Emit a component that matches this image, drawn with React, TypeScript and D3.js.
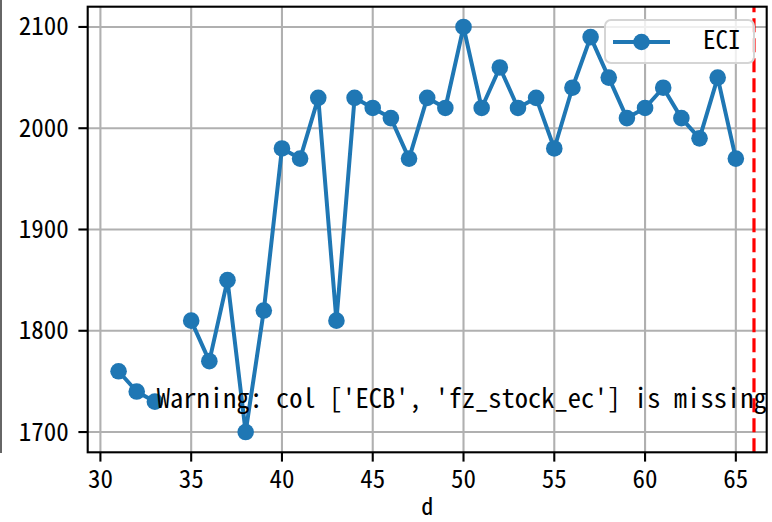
import React from "react";
import * as d3 from "d3";

const xs: number[] = [31, 32, 33, 34, 35, 36, 37, 38, 39, 40, 41, 42, 43, 44, 45, 46, 47, 48, 49, 50, 51, 52, 53, 54, 55, 56, 57, 58, 59, 60, 61, 62, 63, 64, 65];
const eci: (number | null)[] = [1760, 1740, 1730, null, 1810, 1770, 1850, 1700, 1820, 1980, 1970, 2030, 1810, 2030, 2020, 2010, 1970, 2030, 2020, 2100, 2020, 2060, 2020, 2030, 1980, 2040, 2090, 2050, 2010, 2020, 2040, 2010, 1990, 2050, 1970];
const xTicks: number[] = [30, 35, 40, 45, 50, 55, 60, 65];
const yTicks: number[] = [1700, 1800, 1900, 2000, 2100];
const cutoffX = 66;
const warningText = "Warning: col ['ECB', 'fz_stock_ec'] is missing";
const warnPos = { x: 33.1, y: 1724 };
const seriesName = "ECI";
const xLabel = "d";

const W = 772, H = 522;
const L = 87.7, R = 766.7, T = 6.7, B = 452.3;
const FONT = "'Noto Sans Mono CJK SC', 'Noto Sans CJK SC', 'DejaVu Sans Mono', monospace";
const BLUE = "#1f77b4";

export default function App() {
  const x = d3.scaleLinear().domain([29.3, 66.7]).range([L, R]);
  const y = d3.scaleLinear().domain([1680, 2120]).range([B, T]);
  const pts = xs.map((v, i) => ({ x: v, y: eci[i] }));
  const line = d3
    .line<{ x: number; y: number | null }>()
    .defined((d) => d.y !== null)
    .x((d) => x(d.x))
    .y((d) => y(d.y as number));

  return (
    <svg width={W} height={H} style={{ position: "fixed", left: 0, top: 0, background: "#fff" }} fontFamily={FONT}>
      <rect x={0} y={0} width={W} height={H} fill="#fff" />
      <line x1={1} x2={1} y1={0} y2={453} stroke="#333" strokeWidth={1.5} />
      <defs>
        <clipPath id="plotclip">
          <rect x={L} y={T} width={R - L} height={B - T} />
        </clipPath>
      </defs>
      {xTicks.map((t) => (
        <line key={"gx" + t} x1={x(t)} x2={x(t)} y1={T} y2={B} stroke="#b0b0b0" strokeWidth={2.1} />
      ))}
      {yTicks.map((t) => (
        <line key={"gy" + t} x1={L} x2={R} y1={y(t)} y2={y(t)} stroke="#b0b0b0" strokeWidth={2.1} />
      ))}
      <g clipPath="url(#plotclip)">
        <path d={line(pts) || ""} fill="none" stroke={BLUE} strokeWidth={4} strokeLinejoin="round" />
        {pts
          .filter((p) => p.y !== null)
          .map((p) => (
            <circle key={"p" + p.x} cx={x(p.x)} cy={y(p.y as number)} r={8.3} fill={BLUE} />
          ))}
        <line
          x1={x(cutoffX)}
          x2={x(cutoffX)}
          y1={B}
          y2={T}
          stroke="#ff0000"
          strokeWidth={3.2}
          strokeDasharray="14,6"
        />
      </g>
      <text x={x(warnPos.x)} y={y(warnPos.y)} fontSize={26.5} fill="#000" textLength={610} lengthAdjust="spacingAndGlyphs">
        {warningText}
      </text>
      <rect x={L} y={T} width={R - L} height={B - T} fill="none" stroke="#000" strokeWidth={2.1} />
      {xTicks.map((t) => (
        <g key={"tx" + t}>
          <line x1={x(t)} x2={x(t)} y1={B} y2={B + 9.3} stroke="#000" strokeWidth={2.1} />
          <text x={x(t)} y={B + 36} textAnchor="middle" fontSize={25} fill="#000">
            {t}
          </text>
        </g>
      ))}
      {yTicks.map((t) => (
        <g key={"ty" + t}>
          <line x1={L} x2={L - 9.3} y1={y(t)} y2={y(t)} stroke="#000" strokeWidth={2.1} />
          <text x={L - 19} y={y(t) + 8.5} textAnchor="end" fontSize={25} fill="#000">
            {t}
          </text>
        </g>
      ))}
      <text x={(L + R) / 2} y={515} textAnchor="middle" fontSize={24} fill="#000">
        {xLabel}
      </text>
      <rect x={605} y={20} width={149} height={43} rx={6} fill="#fff" fillOpacity={0.8} stroke="#d5d5d5" strokeWidth={2} />
      <line x1={613} x2={670} y1={42} y2={42} stroke={BLUE} strokeWidth={4} />
      <circle cx={641.5} cy={42} r={8.3} fill={BLUE} />
      <text x={703} y={49} fontSize={25} fill="#000">
        {seriesName}
      </text>
    </svg>
  );
}
